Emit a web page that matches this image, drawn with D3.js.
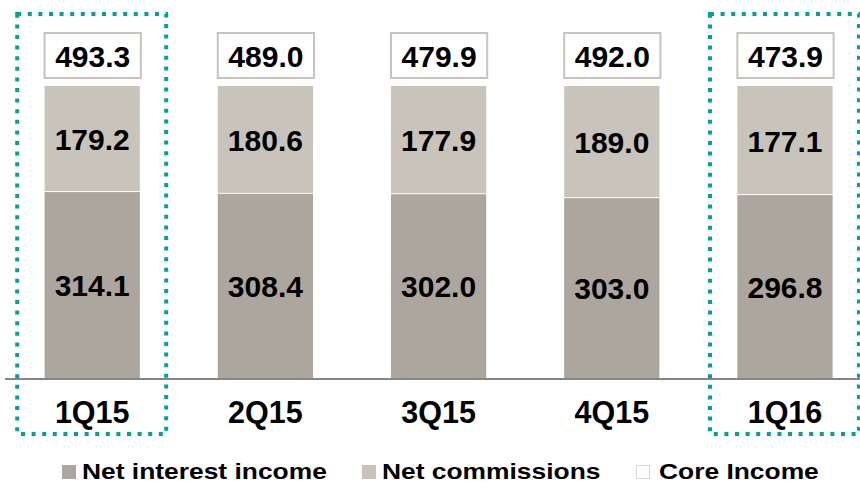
<!DOCTYPE html>
<html>
<head>
<meta charset="utf-8">
<script src="https://cdn.jsdelivr.net/npm/d3@7/dist/d3.min.js"></script>
<style>
  body { margin: 0; background: #fff; }
  text { font-family: "Liberation Sans", Arial, sans-serif; font-weight: bold; fill: #000; }
</style>
</head>
<body>
<script>
var width = 860,
    height = 482;

// data
var quarters = ["1Q15", "2Q15", "3Q15", "4Q15", "1Q16"];
var netInterest = [314.1, 308.4, 302.0, 303.0, 296.8];
var netCommissions = [179.2, 180.6, 177.9, 189.0, 177.1];
var coreIncome = [493.3, 489.0, 479.9, 492.0, 473.9];
var highlighted = ["1Q15", "1Q16"];
var legendLabels = ["Net interest income", "Net commissions", "Core Income"];

var colors = {nii: "#ada69f", comm: "#c8c4bc", box: "#c8c3bc", teal: "#00a399"};

var svg = d3.select("body").append("svg")
  .attr("width", width)
  .attr("height", height)
  .attr("id", "canvas");

var xScale = d3.scaleBand()
  .domain(quarters)
  .range([5.6, 871.6])
  .paddingInner(0.45)
  .paddingOuter(0.225);

// bars are shown as share of core income
var yScale = d3.scaleLinear()
  .domain([0, 1])
  .range([378, 86]);

var rows = quarters.map(function(q, i) {
  return {q: q, nii: netInterest[i], comm: netCommissions[i], total: coreIncome[i]};
});

var bars = svg.append("g").attr("id", "bars");

// net interest income
bars.selectAll("rect.nii")
  .data(rows)
  .enter().append("rect")
    .attr("class", "nii")
    .attr("x", function(d){ return xScale(d.q); })
    .attr("width", xScale.bandwidth())
    .attr("y", function(d){ return yScale(d.nii / d.total); })
    .attr("height", function(d){ return yScale(0) - yScale(d.nii / d.total); })
    .attr("fill", colors.nii);

// net commissions on top
bars.selectAll("rect.comm")
  .data(rows)
  .enter().append("rect")
    .attr("class", "comm")
    .attr("x", function(d){ return xScale(d.q); })
    .attr("width", xScale.bandwidth())
    .attr("y", yScale(1))
    .attr("height", function(d){ return yScale(d.nii / d.total) - yScale(1) - 1; })
    .attr("fill", colors.comm);

// segment labels
bars.selectAll("text.nii-label")
  .data(rows)
  .enter().append("text")
    .attr("class", "nii-label")
    .attr("x", function(d){ return xScale(d.q) + xScale.bandwidth()/2; })
    .attr("y", function(d){ return (yScale(0) + yScale(d.nii / d.total))/2 + 11; })
    .attr("text-anchor", "middle")
    .attr("font-size", 30)
    .text(function(d){ return d.nii.toFixed(1); });

bars.selectAll("text.comm-label")
  .data(rows)
  .enter().append("text")
    .attr("class", "comm-label")
    .attr("x", function(d){ return xScale(d.q) + xScale.bandwidth()/2; })
    .attr("y", function(d){ return (yScale(1) + yScale(d.nii / d.total))/2 + 11; })
    .attr("text-anchor", "middle")
    .attr("font-size", 30)
    .text(function(d){ return d.comm.toFixed(1); });

// core income boxes
var totals = svg.append("g").attr("id", "totals");
totals.selectAll("rect")
  .data(rows)
  .enter().append("rect")
    .attr("x", function(d){ return xScale(d.q); })
    .attr("y", 33)
    .attr("width", xScale.bandwidth() + 1)
    .attr("height", 45)
    .attr("fill", "#fff")
    .attr("stroke", colors.box)
    .attr("stroke-width", 2);
totals.selectAll("text")
  .data(rows)
  .enter().append("text")
    .attr("x", function(d){ return xScale(d.q) + xScale.bandwidth()/2 + 0.5; })
    .attr("y", 66.5)
    .attr("text-anchor", "middle")
    .attr("font-size", 30)
    .text(function(d){ return d.total.toFixed(1); });

// baseline
svg.append("line")
  .attr("x1", 5)
  .attr("x2", width)
  .attr("y1", yScale(0) + 1)
  .attr("y2", yScale(0) + 1)
  .attr("stroke", "#868686")
  .attr("stroke-width", 2);

// category labels
var xAxisCall = d3.axisBottom(xScale).tickSize(0).tickPadding(0);
var xAxis = svg.append("g")
  .attr("class", "x-axis")
  .attr("transform", "translate(0," + 400 + ")")
  .call(xAxisCall);
xAxis.select(".domain").remove();
xAxis.selectAll("text")
  .attr("font-size", 30.5)
  .attr("dy", "0.74em")
  .attr("font-family", "Liberation Sans, Arial, sans-serif");

// dotted highlight frames
svg.selectAll("rect.frame")
  .data(highlighted)
  .enter().append("rect")
    .attr("class", "frame")
    .attr("x", function(d){ return xScale(d) + xScale.bandwidth()/2 - 75; })
    .attr("y", 14)
    .attr("width", 149)
    .attr("height", 420)
    .attr("fill", "none")
    .attr("stroke", colors.teal)
    .attr("stroke-width", 4)
    .attr("stroke-dasharray", "4,6.6");

// legend
var legendX = [62, 362, 636];
var legendFill = [colors.nii, colors.comm, "#fff"];
var legend = svg.selectAll("g.legend")
  .data(legendLabels)
  .enter().append("g")
    .attr("class", "legend")
    .attr("transform", function(d, i){ return "translate(" + legendX[i] + ",0)"; });
legend.append("rect")
  .attr("x", function(d, i){ return i == 2 ? 0.5 : 0; })
  .attr("y", function(d, i){ return i == 2 ? 465.5 : 465; })
  .attr("width", function(d, i){ return i == 2 ? 13 : 14; })
  .attr("height", function(d, i){ return i == 2 ? 13 : 14; })
  .attr("fill", function(d, i){ return legendFill[i]; })
  .attr("stroke", function(d, i){ return i == 2 ? "#d4d4d4" : "none"; });
legend.append("text")
  .attr("transform", function(d, i){ return "translate(" + (i == 2 ? 23 : 20) + ",478.5) scale(1.2,1)"; })
  .attr("font-size", 22)
  .text(function(d){ return d; });
</script>
</body>
</html>
